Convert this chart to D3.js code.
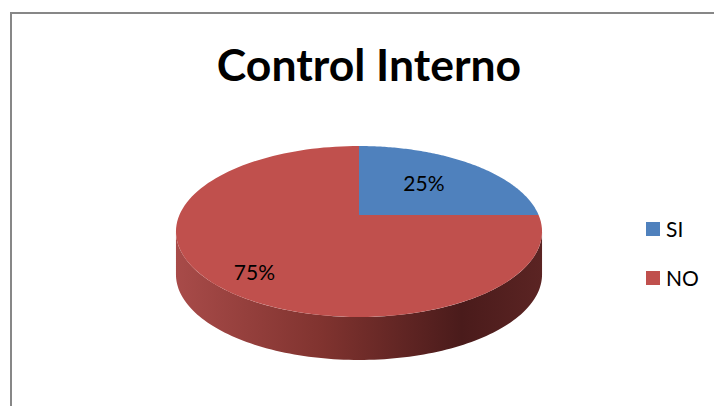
<!DOCTYPE html>
<html><head><meta charset="utf-8">
<script src="https://cdn.jsdelivr.net/npm/d3@7"></script>
<style>body{margin:0;background:#fff}svg{display:block}</style>
</head><body>
<svg id="c" width="714" height="406"></svg>
<script>
const categories = ["SI", "NO"];
const values = [25, 75];
const labels = ["25%", "75%"];
const colors = ["#4f81bd", "#c0504d"];
const title = "Control Interno";

const W = 714, H = 406;
const svg = d3.select("#c");
const font = "Lato, 'Open Sans', sans-serif";

// frame
svg.append("rect").attr("x", 11).attr("y", 13).attr("width", 740).attr("height", 420)
  .attr("fill", "none").attr("stroke", "#878787").attr("stroke-width", 2);

svg.append("text").attr("x", 369).attr("y", 81).attr("text-anchor", "middle")
  .attr("font-family", font).attr("font-weight", "bold").attr("font-size", 44.5)
  .attr("fill", "#000").text(title);

// 3D pie projection
const cx = 359, cy = 215, A = 179.6, B = 82.3, k = 0.193, depth = 43;
function proj(theta, dz, f) {
  f = f == null ? 1 : f;
  const u = Math.sin(theta) * f, v = Math.cos(theta) * f;
  const s = 1 + k * v;
  return [cx + A * u / s, cy - B * v / s + (dz || 0)];
}
const pie = d3.pie().sort(null).value(d => d)(values);

const defs = svg.append("defs");
const grad = defs.append("linearGradient").attr("id", "side")
  .attr("gradientUnits", "userSpaceOnUse").attr("x1", 176).attr("x2", 542).attr("y1", 0).attr("y2", 0);
grad.append("stop").attr("offset", "0%").attr("stop-color", "#a84b49");
grad.append("stop").attr("offset", "40%").attr("stop-color", "#80332f");
grad.append("stop").attr("offset", "78%").attr("stop-color", "#4a1b1b");
grad.append("stop").attr("offset", "100%").attr("stop-color", "#5b2423");
const gradB = defs.append("linearGradient").attr("id", "sideB")
  .attr("gradientUnits", "userSpaceOnUse").attr("x1", 176).attr("x2", 542).attr("y1", 0).attr("y2", 0);
gradB.append("stop").attr("offset", "0%").attr("stop-color", "#5f83b3");
gradB.append("stop").attr("offset", "100%").attr("stop-color", "#24406a");

const visStart = Math.acos(-k), visEnd = 2 * Math.PI - Math.acos(-k);
const N = 120;
function rim(a0, a1, dz) {
  const pts = [];
  for (let i = 0; i <= N; i++) pts.push(proj(a0 + (a1 - a0) * i / N, dz));
  return pts;
}
// sides
pie.forEach((p, i) => {
  const a0 = Math.max(p.startAngle, visStart), a1 = Math.min(p.endAngle, visEnd);
  if (a1 <= a0) return;
  const top = rim(a0, a1, 0), bot = rim(a0, a1, depth).reverse();
  svg.append("path").attr("d", d3.line()(top.concat(bot)) + "Z")
    .attr("fill", i === 0 ? "url(#sideB)" : "url(#side)");
});
// top faces
pie.forEach((p, i) => {
  const pts = [[cx, cy]].concat(rim(p.startAngle, p.endAngle, 0));
  svg.append("path").attr("d", d3.line()(pts) + "Z").attr("fill", colors[i]);
});
// labels: larger slices put label farther out (like Excel best-fit)
pie.forEach((p, i) => {
  const mid = (p.startAngle + p.endAngle) / 2;
  const frac = (p.endAngle - p.startAngle) / (2 * Math.PI);
  const f = frac > 0.5 ? 0.74 : 0.55;
  const [x, y0] = proj(mid, 0, f);
  const y = y0 + (frac > 0.5 ? 9 : -3);
  svg.append("text").attr("x", x).attr("y", y).attr("text-anchor", "middle")
    .attr("dominant-baseline", "central")
    .attr("font-family", font).attr("font-size", 21).attr("fill", "#000").text(labels[i]);
});
// legend
categories.forEach((c, i) => {
  const y = 222 + i * 49;
  svg.append("rect").attr("x", 646).attr("y", y).attr("width", 14).attr("height", 14).attr("fill", colors[i]);
  svg.append("text").attr("x", 666).attr("y", y + 15).attr("font-family", font)
    .attr("font-size", 21).attr("fill", "#000").text(c);
});
</script>
</body></html>
